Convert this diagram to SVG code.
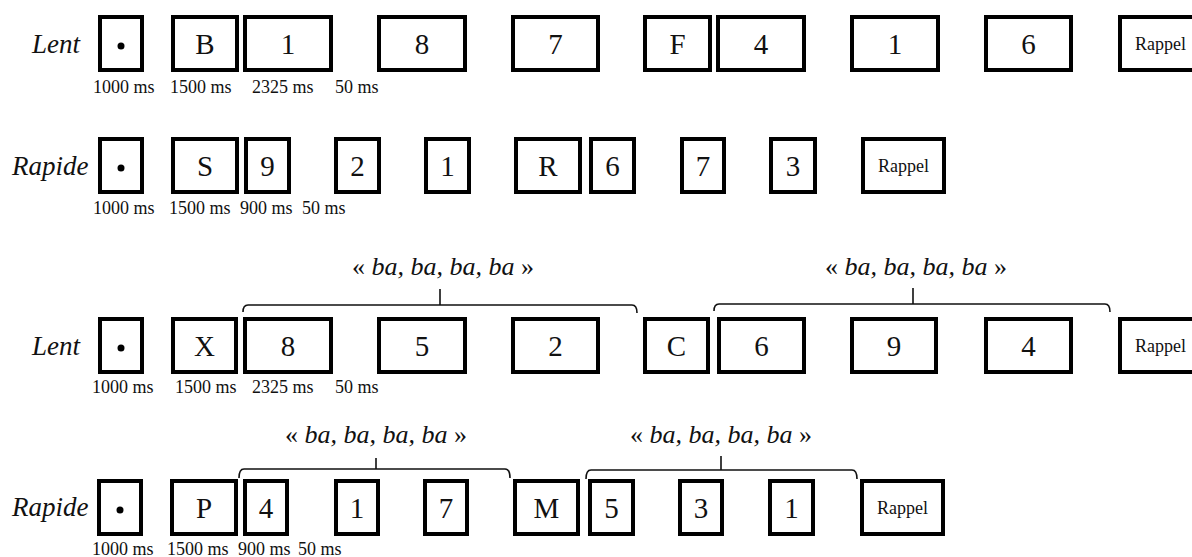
<svg xmlns="http://www.w3.org/2000/svg" width="1192" height="557" viewBox="0 0 1192 557">
<style>
.b{fill:#fff;stroke:#000;stroke-width:4}
.t{font-family:"Liberation Serif","Times New Roman",serif;font-size:29px;text-anchor:middle;fill:#111}
.r{font-family:"Liberation Serif","Times New Roman",serif;font-size:18px;text-anchor:middle;fill:#111}
.ms{font-family:"Liberation Serif","Times New Roman",serif;font-size:18px;fill:#111}
.lab{font-family:"Liberation Serif","Times New Roman",serif;font-size:27px;font-style:italic;fill:#111}
.ba{font-family:"Liberation Serif","Times New Roman",serif;font-size:26px;text-anchor:middle;fill:#111}
.br{fill:none;stroke:#111;stroke-width:1.6}
</style>
<rect width="1192" height="557" fill="#fff"/>

<!-- Row 1 -->
<g id="row1-label"><text class="lab" x="32" y="53">Lent</text></g>
<g id="r1-fix"><rect class="b" x="100" y="17" width="42" height="53"/><circle cx="121" cy="46" r="3.5"/></g>
<g id="r1-B"><rect class="b" x="173" y="17" width="64" height="53"/><text class="t" x="205" y="54">B</text></g>
<g id="r1-1"><rect class="b" x="245" y="17" width="86" height="53"/><text class="t" x="288" y="54">1</text></g>
<g id="r1-8"><rect class="b" x="379" y="17" width="86" height="53"/><text class="t" x="422" y="54">8</text></g>
<g id="r1-7"><rect class="b" x="513" y="17" width="85" height="53"/><text class="t" x="555.5" y="54">7</text></g>
<g id="r1-F"><rect class="b" x="645" y="17" width="65" height="53"/><text class="t" x="677.5" y="54">F</text></g>
<g id="r1-4"><rect class="b" x="718" y="17" width="86" height="53"/><text class="t" x="761" y="54">4</text></g>
<g id="r1-1b"><rect class="b" x="852" y="17" width="86" height="53"/><text class="t" x="895" y="54">1</text></g>
<g id="r1-6"><rect class="b" x="986" y="17" width="85" height="53"/><text class="t" x="1028.5" y="54">6</text></g>
<g id="r1-rappel"><rect class="b" x="1120" y="17" width="81" height="53"/><text class="r" x="1160.5" y="50">Rappel</text></g>
<g id="r1-times">
<text class="ms" x="93" y="93">1000 ms</text>
<text class="ms" x="170" y="93">1500 ms</text>
<text class="ms" x="252" y="93">2325 ms</text>
<text class="ms" x="335" y="93">50 ms</text>
</g>

<!-- Row 2 -->
<g id="row2-label"><text class="lab" x="12" y="175">Rapide</text></g>
<g id="r2-fix"><rect class="b" x="100" y="139" width="42" height="53"/><circle cx="121" cy="168" r="3.5"/></g>
<g id="r2-S"><rect class="b" x="173" y="139" width="64" height="53"/><text class="t" x="205" y="176">S</text></g>
<g id="r2-9"><rect class="b" x="246" y="139" width="43" height="53"/><text class="t" x="267.5" y="176">9</text></g>
<g id="r2-2"><rect class="b" x="336" y="139" width="43" height="53"/><text class="t" x="357.5" y="176">2</text></g>
<g id="r2-1"><rect class="b" x="426" y="139" width="43" height="53"/><text class="t" x="447.5" y="176">1</text></g>
<g id="r2-R"><rect class="b" x="516" y="139" width="64" height="53"/><text class="t" x="548" y="176">R</text></g>
<g id="r2-6"><rect class="b" x="591" y="139" width="43" height="53"/><text class="t" x="612.5" y="176">6</text></g>
<g id="r2-7"><rect class="b" x="682" y="139" width="42" height="53"/><text class="t" x="703" y="176">7</text></g>
<g id="r2-3"><rect class="b" x="771" y="139" width="44" height="53"/><text class="t" x="793" y="176">3</text></g>
<g id="r2-rappel"><rect class="b" x="863" y="139" width="81" height="53"/><text class="r" x="903.5" y="172">Rappel</text></g>
<g id="r2-times">
<text class="ms" x="93" y="214">1000 ms</text>
<text class="ms" x="169" y="214">1500 ms</text>
<text class="ms" x="240" y="214">900 ms</text>
<text class="ms" x="302" y="214">50 ms</text>
</g>

<!-- Row 3 -->
<g id="row3-label"><text class="lab" x="32" y="355">Lent</text></g>
<g id="r3-fix"><rect class="b" x="100" y="319" width="42" height="53"/><circle cx="121" cy="348" r="3.5"/></g>
<g id="r3-X"><rect class="b" x="173" y="319" width="63" height="53"/><text class="t" x="204.5" y="356">X</text></g>
<g id="r3-8"><rect class="b" x="245" y="319" width="86" height="53"/><text class="t" x="288" y="356">8</text></g>
<g id="r3-5"><rect class="b" x="379" y="319" width="86" height="53"/><text class="t" x="422" y="356">5</text></g>
<g id="r3-2"><rect class="b" x="513" y="319" width="85" height="53"/><text class="t" x="555.5" y="356">2</text></g>
<g id="r3-C"><rect class="b" x="645" y="319" width="63" height="53"/><text class="t" x="676.5" y="356">C</text></g>
<g id="r3-6"><rect class="b" x="719" y="319" width="85" height="53"/><text class="t" x="761.5" y="356">6</text></g>
<g id="r3-9"><rect class="b" x="852" y="319" width="84" height="53"/><text class="t" x="894" y="356">9</text></g>
<g id="r3-4"><rect class="b" x="986" y="319" width="85" height="53"/><text class="t" x="1028.5" y="356">4</text></g>
<g id="r3-rappel"><rect class="b" x="1120" y="319" width="81" height="53"/><text class="r" x="1160.5" y="352">Rappel</text></g>
<g id="r3-times">
<text class="ms" x="92" y="393">1000 ms</text>
<text class="ms" x="175" y="393">1500 ms</text>
<text class="ms" x="252" y="393">2325 ms</text>
<text class="ms" x="335" y="393">50 ms</text>
</g>
<g id="r3-ba1"><text class="ba" x="443" y="275">«&#160;<tspan font-style="italic">ba, ba, ba, ba</tspan>&#160;»</text></g>
<g id="r3-ba2"><text class="ba" x="916" y="275">«&#160;<tspan font-style="italic">ba, ba, ba, ba</tspan>&#160;»</text></g>

<!-- Row 4 -->
<g id="row4-label"><text class="lab" x="12" y="516">Rapide</text></g>
<g id="r4-fix"><rect class="b" x="99" y="481" width="42" height="53"/><circle cx="120" cy="510" r="3.5"/></g>
<g id="r4-P"><rect class="b" x="172" y="481" width="64" height="53"/><text class="t" x="204" y="518">P</text></g>
<g id="r4-4"><rect class="b" x="245" y="481" width="42" height="53"/><text class="t" x="266" y="518">4</text></g>
<g id="r4-1"><rect class="b" x="336" y="481" width="42" height="53"/><text class="t" x="357" y="518">1</text></g>
<g id="r4-7"><rect class="b" x="425" y="481" width="42" height="53"/><text class="t" x="446" y="518">7</text></g>
<g id="r4-M"><rect class="b" x="515" y="481" width="63" height="53"/><text class="t" x="546.5" y="518">M</text></g>
<g id="r4-5"><rect class="b" x="590" y="481" width="43" height="53"/><text class="t" x="611.5" y="518">5</text></g>
<g id="r4-3"><rect class="b" x="680" y="481" width="42" height="53"/><text class="t" x="701" y="518">3</text></g>
<g id="r4-1b"><rect class="b" x="770" y="481" width="43" height="53"/><text class="t" x="791.5" y="518">1</text></g>
<g id="r4-rappel"><rect class="b" x="862" y="481" width="81" height="53"/><text class="r" x="902.5" y="514">Rappel</text></g>
<g id="r4-times">
<text class="ms" x="92" y="555">1000 ms</text>
<text class="ms" x="167" y="555">1500 ms</text>
<text class="ms" x="238" y="555">900 ms</text>
<text class="ms" x="298" y="555">50 ms</text>
</g>
<g id="r4-ba1"><text class="ba" x="376" y="443">«&#160;<tspan font-style="italic">ba, ba, ba, ba</tspan>&#160;»</text></g>
<g id="r4-ba2"><text class="ba" x="721" y="443">«&#160;<tspan font-style="italic">ba, ba, ba, ba</tspan>&#160;»</text></g>

<!-- Connectors (braces) -->
<g id="connectors">
<path class="br" d="M243,312 Q243,305 248,305 H632 Q637,305 637,313 M440,305 V289"/>
<path class="br" d="M714,311 Q714,304 719,304 H1105 Q1110,304 1110,312 M913,304 V288"/>
<path class="br" d="M239,478 Q239,469 244,469 H505 Q510,469 510,478 M376,469 V458"/>
<path class="br" d="M586,479 Q586,470 591,470 H852 Q857,470 857,479 M721,470 V456"/>
</g>
</svg>
